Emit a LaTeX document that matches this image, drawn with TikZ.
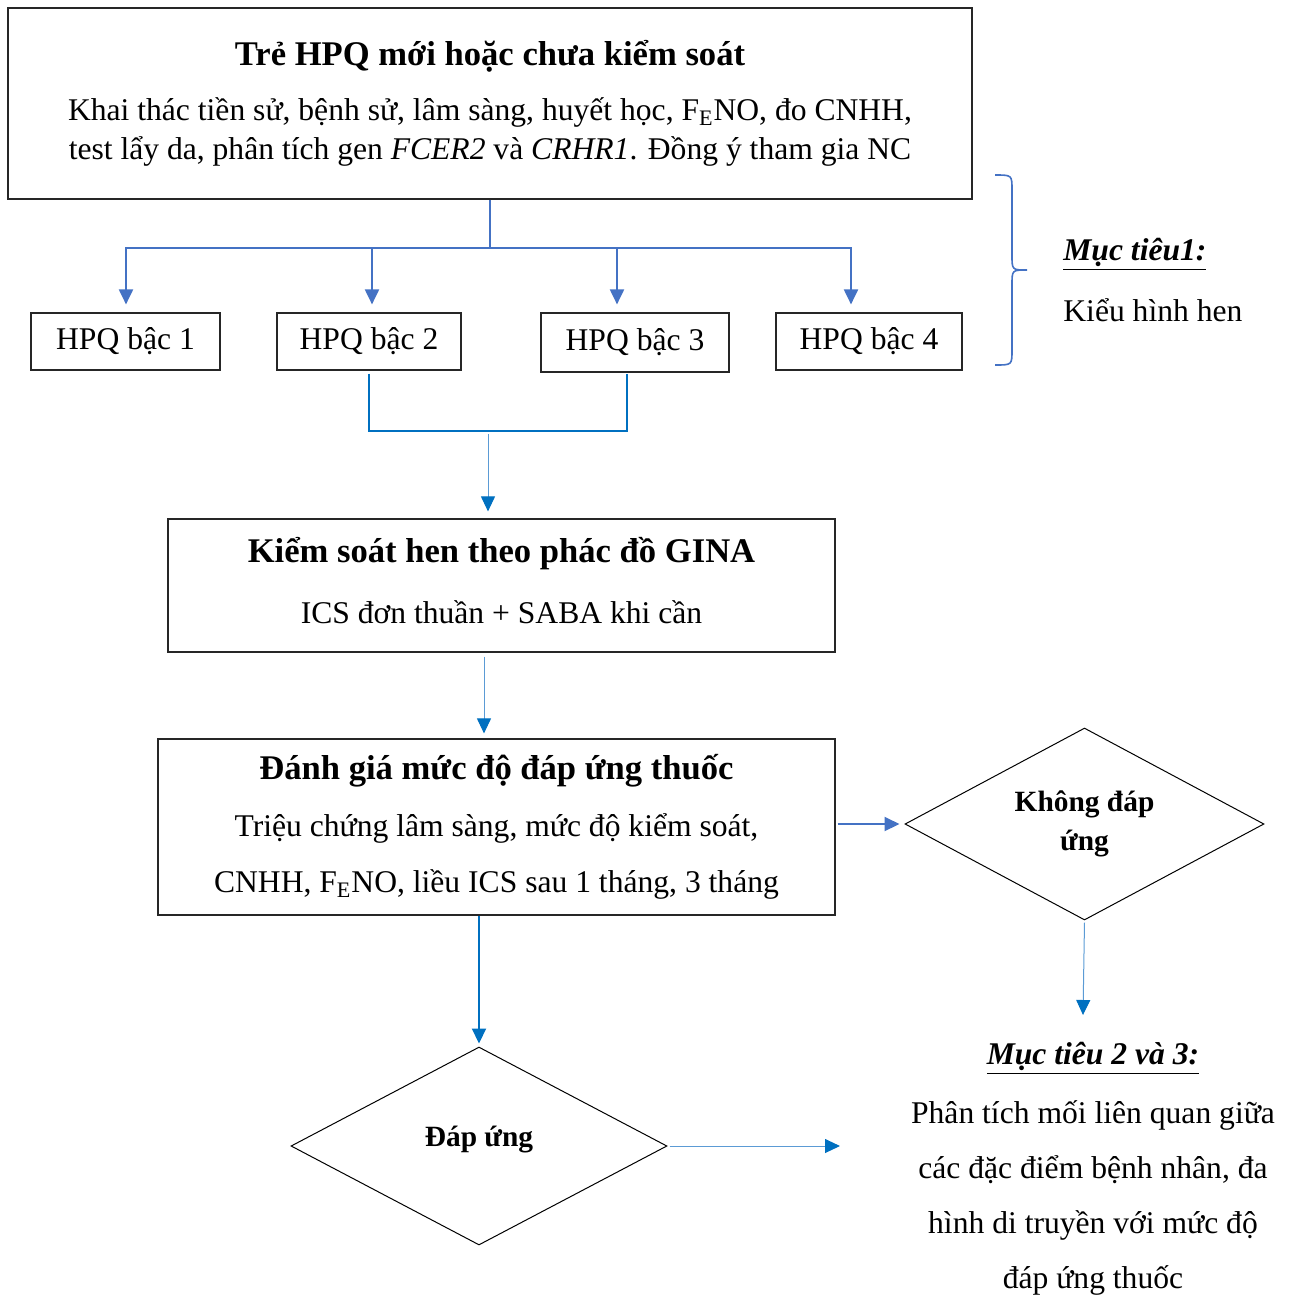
\documentclass[tikz,border=0pt]{standalone}
\usepackage{fontspec}
\setmainfont{Liberation Serif}
\usetikzlibrary{arrows.meta,shapes.geometric,positioning}
\definecolor{fanblue}{RGB}{68,114,196}
\definecolor{darkblue}{RGB}{0,112,192}
\definecolor{lightblue}{RGB}{91,155,213}
\newcommand{\feno}{F\textsubscript{E}NO}
\newcommand{\ttl}{\fontsize{17.3}{20}\selectfont\bfseries}
\newcommand{\aimtitle}[1]{\underline{\textbf{\textit{#1}}}}
\tikzset{
  box/.style={draw=black!85, line width=0.6pt, inner sep=0pt, align=center,
    font=\fontsize{15.8}{19.5}\selectfont},
  stepbox/.style={box, minimum height=28.5pt},
  choice/.style={draw, shape=diamond, aspect=1.87, inner sep=0pt, line width=0.5pt,
    align=center, font=\fontsize{14.7}{19.5}\selectfont\bfseries},
  fan/.style={draw=fanblue, line width=1pt, -{Triangle[length=7.5pt,width=7pt]}},
  thinarrow/.style={draw=lightblue, line width=0.5pt,
    -{Triangle[length=7.5pt,width=7pt,color=darkblue]}},
  thickarrow/.style={draw=darkblue, line width=1pt, -{Triangle[length=7.5pt,width=7pt]}},
}
\begin{document}
\begin{tikzpicture}[x=0.5pt, y=-0.5pt]
  \useasboundingbox (0,0) rectangle (1297,1298);

  \node[box, minimum width=482pt, minimum height=95.5pt] (top) at (490,103.5)
    {{\ttl Trẻ HPQ mới hoặc chưa kiểm soát}\\[8pt]
     Khai thác tiền sử, bệnh sử, lâm sàng, huyết học, \feno, đo CNHH,\\
     test lẩy da, phân tích gen \textit{FCER2} và \textit{CRHR1}. Đồng ý tham gia NC};

  \node[stepbox, minimum width=94.5pt] (s1) at (125.5,341.5) {HPQ bậc 1};
  \node[stepbox, minimum width=92pt] (s2) at (369,341.5) {HPQ bậc 2};
  \node[stepbox, minimum width=94pt, minimum height=29.5pt] (s3) at (635,342.5) {HPQ bậc 3};
  \node[stepbox, minimum width=93pt] (s4) at (869,341.5) {HPQ bậc 4};

  \node[box, minimum width=333.5pt, minimum height=66.5pt] (gina) at (501.5,585.5)
    {{\ttl Kiểm soát hen theo phác đồ GINA}\\[11pt]
     ICS đơn thuần + SABA khi cần\\[-14.5pt]\mbox{}};

  \node[box, minimum width=338.5pt, minimum height=88pt] (eval) at (496.5,827)
    {{\ttl Đánh giá mức độ đáp ứng thuốc}\\[9pt]
     Triệu chứng lâm sàng, mức độ kiểm soát,\\[8.5pt]
     CNHH, \feno, liều ICS sau 1 tháng, 3 tháng};

  \node[choice, minimum width=179.5pt, minimum height=96pt] (nores) at (1084.5,824)
    {Không đáp\\ứng};
  \node[choice, minimum width=188pt, minimum height=99pt] (res) at (479,1146)
    {\raisebox{10pt}{Đáp ứng}};

  % muc tieu
  \node[anchor=west, inner sep=0pt, align=left, font=\fontsize{15.8}{19.5}\selectfont] (aim1) at (1063,280)
    {\aimtitle{Mục tiêu1:}\\[11pt]Kiểu hình hen};
  \node[align=center, font=\fontsize{15.8}{27.5}\selectfont] (aim2) at (1093,1169)
    {\aimtitle{Mục tiêu 2 và 3:}\\[2pt]
     Phân tích mối liên quan giữa\\
     các đặc điểm bệnh nhân, đa\\
     hình di truyền với mức độ\\
     đáp ứng thuốc};
  \draw[fanblue, line width=0.8pt] (995,175) .. controls (1012,175) .. (1012,190) -- (1012,255)
    .. controls (1012,270) .. (1027,270) .. controls (1012,270) .. (1012,285) -- (1012,350)
    .. controls (1012,365) .. (995,365);

  % connectors
  \coordinate (split) at (490,248);
  \draw[fanblue, line width=1pt] (top.south) -- (split);
  \foreach \n/\dx in {s1/0.25, s2/1.5, s3/-9, s4/-9}
    \draw[fan] (split) -| ([xshift=\dx pt, yshift=4pt]\n.north);

  \draw[darkblue, line width=1pt] ([yshift=-1.5pt]s2.south) |- (498,431)
    -| ([xshift=-4pt, yshift=-0.5pt]s3.south);
  \draw[thinarrow] (488,434) -- ([xshift=-6.75pt, yshift=3.5pt]gina.north);
  \draw[thinarrow] ([xshift=-8.75pt, yshift=-2pt]gina.south) -- ([xshift=-6.25pt, yshift=2.5pt]eval.north);

  \draw[fan] ([xshift=1pt]eval.east |- nores.west) -- ([xshift=-2.5pt]nores.west);
  \coordinate (goal) at (1083,1015);
  \draw[thinarrow] ([yshift=-1pt]nores.south) -- (goal);

  \draw[thickarrow] (eval.south -| res.north) -- ([yshift=1.5pt]res.north);
  \coordinate (goalb) at (840,1146);
  \draw[thinarrow] ([xshift=1pt]res.east) -- (goalb);
\end{tikzpicture}
\end{document}
